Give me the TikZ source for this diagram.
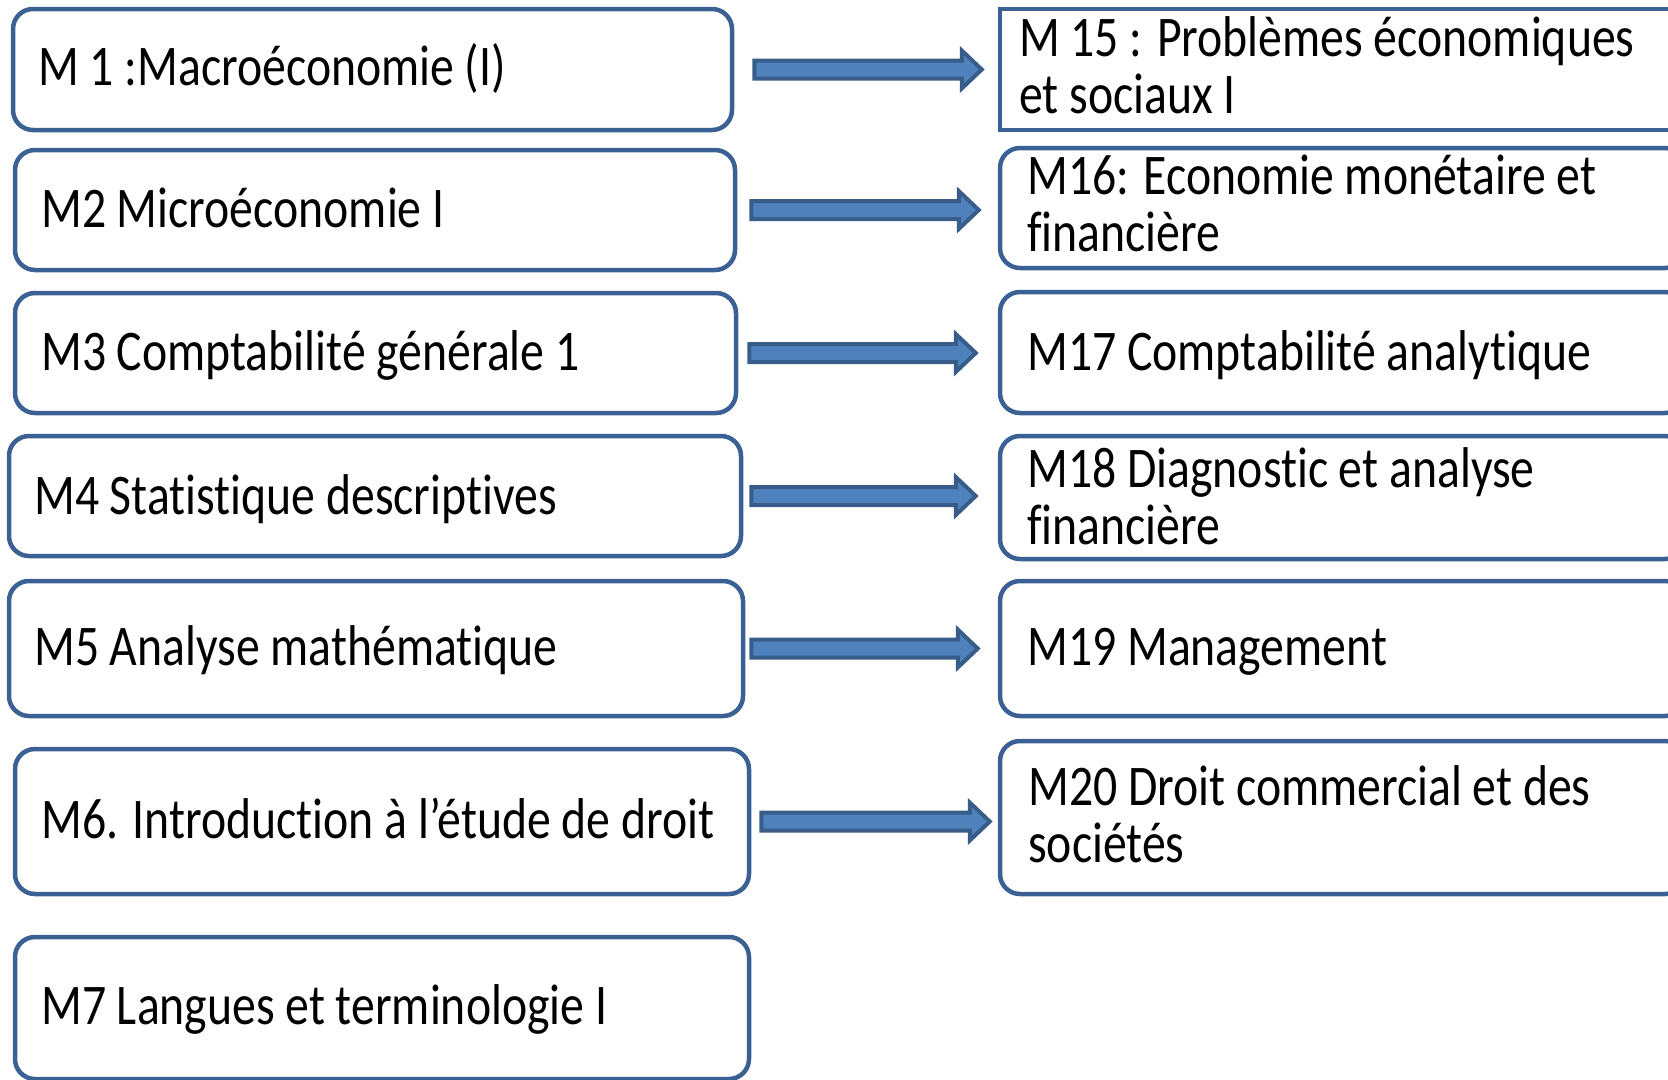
\documentclass[tikz,border=0pt]{standalone}
\usepackage{fontspec}
\setmainfont{Carlito}[FakeStretch=0.83,Ligatures=NoCommon]
\usetikzlibrary{calc}
\definecolor{boxblue}{HTML}{3B6093}
\definecolor{arrfill}{HTML}{4F81BD}
\definecolor{arrline}{HTML}{385D8A}
\tikzset{
  lbox/.style={draw=boxblue, line width=4.5pt, rounded corners=20pt, inner sep=0pt, rectangle},
  sbox/.style={draw=boxblue, line width=4.5pt, inner sep=0pt, rectangle},
  lbl/.style={inner sep=0pt, anchor=base west, align=left, font=\fontsize{57.5}{57}\selectfont},
  fat/.style={fill=arrfill, draw=arrline, line width=4pt, line join=miter}
}
\newcommand\fatarr[4]{%
  \path[fat] let \p1=([xshift=#3]#1.east), \p2=([xshift=-#4]#2.west) in
    (\x1+2pt,\y1+9pt) -- (\x2-20pt,\y1+9pt) -- (\x2-20pt,\y1+19pt) -- (\x2,\y1)
    -- (\x2-20pt,\y1-19pt) -- (\x2-20pt,\y1-9pt) -- (\x1+2pt,\y1-9pt) -- cycle;}
\begin{document}
\begin{tikzpicture}[x=1pt,y=-1pt]
\useasboundingbox (0,0) rectangle (1668,1079);
\clip (0,0) rectangle (1668,1079);
% left boxes
\node[lbox, minimum width=719pt, minimum height=121pt] (m1) at (372.5,69.5) {};
\node[lbox, minimum width=720pt, minimum height=120pt] (m2) at (375,210) {};
\node[lbox, minimum width=721pt, minimum height=120pt] (m3) at (375.5,353) {};
\node[lbox, minimum width=732pt, minimum height=120pt] (m4) at (375,496) {};
\node[lbox, minimum width=734pt, minimum height=135pt] (m5) at (376,648.5) {};
\node[lbox, minimum width=734pt, minimum height=145pt] (m6) at (382,821.5) {};
\node[lbox, minimum width=734pt, minimum height=142pt] (m7) at (382,1008) {};
% right boxes
\node[sbox, minimum width=700pt, minimum height=121pt] (m15) at (1350,69.5) {};
\node[lbox, minimum width=685pt, minimum height=120pt] (m16) at (1342.5,208) {};
\node[lbox, minimum width=685pt, minimum height=121pt] (m17) at (1342.5,352.5) {};
\node[lbox, minimum width=685pt, minimum height=123pt] (m18) at (1342.5,497.5) {};
\node[lbox, minimum width=685pt, minimum height=135pt] (m19) at (1342.5,648.5) {};
\node[lbox, minimum width=685pt, minimum height=153pt] (m20) at (1342.5,817.5) {};
% texts
\node[lbl] (t1) at (38,85) {M 1 :Macroéconomie (I)};
\node[lbl] (t2) at (41,227) {M2 Microéconomie I};
\node[lbl] (t3) at (41,370) {M3 Comptabilité générale 1};
\node[lbl] (t4) at (34,514) {M4 Statistique descriptives};
\node[lbl] (t5) at (34,665) {M5 Analyse mathématique};
\node[lbl] (t6) at (41,838) {M6. Introduction à l’étude de droit};
\node[lbl] (t7) at (41,1024) {M7 Langues et terminologie I};
\node[lbl] (t15) at (1019,113) {M 15 : Problèmes économiques\\et sociaux I};
\node[lbl] (t16) at (1027,251) {M16: Economie monétaire et\\financière};
\node[lbl] (t17) at (1027,370) {M17 Comptabilité analytique};
\node[lbl] (t18) at (1027,544) {M18 Diagnostic et analyse\\financière};
\node[lbl] (t19) at (1027,665) {M19 Management};
\node[lbl] (t20) at (1028,862) {M20 Droit commercial et des\\sociétés};
% arrows
\fatarr{m1}{m15}{18pt}{16pt}
\fatarr{m2}{m16}{12pt}{19pt}
\fatarr{m3}{m17}{9pt}{22pt}
\fatarr{m4}{m18}{6pt}{22pt}
\fatarr{m5}{m19}{4pt}{20pt}
\fatarr{m6}{m20}{8pt}{8pt}
\end{tikzpicture}
\end{document}
